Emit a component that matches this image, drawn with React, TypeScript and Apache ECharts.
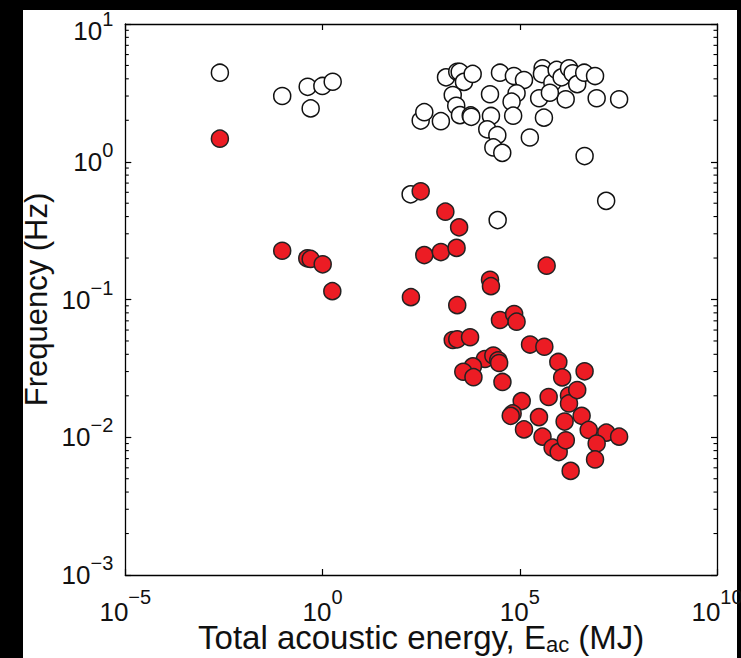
import React, { useEffect, useRef } from 'react';
import * as echarts from 'echarts';

// Open (white) circles: total acoustic energy (MJ) and frequency (Hz)
const openEnergy = [
  2.5e-3, 0.095, 0.42, 0.5, 0.99, 1.81, 171, 2.75e4, 1.55e7, 308, 380, 1.0e3, 1.35e3,
  2.6e3, 3.0e3, 3.85e3, 6.4e3, 2.0e3, 2.45e3, 3.05e3, 5.7e3, 5.9e3, 1.76e4, 1.86e4, 1.5e4,
  2.7e4, 2.14e4, 3.6e4, 3.15e4, 7.1e4, 1.28e5, 8.3e4, 6.2e4, 6.8e4, 1.8e5, 3.1e5, 4.1e5,
  3.8e5, 3.65e5, 6.7e5, 8.6e5, 1.15e6, 1.77e6, 2.19e6, 2.86e6, 1.46e6, 5.8e5, 4.3e6, 8.1e6,
  8.9e6, 3.3e7, 4.4e6,
];
const openFreq = [
  4.43, 3.0, 3.5, 2.44, 3.55, 3.81, 0.58, 0.377, 0.52, 1.99, 2.29, 1.97, 4.1,
  4.5, 4.49, 3.8, 4.34, 3.05, 2.55, 2.18, 2.17, 2.12, 3.09, 2.15, 1.72,
  1.56, 1.27, 1.16, 4.43, 4.19, 3.92, 3.14, 2.73, 2.16, 1.5, 2.89, 2.09,
  4.77, 4.33, 3.75, 4.64, 4.1, 4.77, 4.39, 3.66, 2.84, 3.17, 4.43, 4.19,
  2.89, 2.84, 1.1,
];

// Red (filled) circles
const redEnergy = [
  2.5e-3, 0.095, 0.41, 0.5, 1.01, 1.77, 308, 1.3e3, 2.9e3, 380, 1.0e3, 2.5e3, 4.8e5,
  1.76e4, 1.86e4, 174, 2.6e3, 3.15e4, 7.2e4, 8.3e4, 2.0e3, 2.6e3, 5.5e3, 1.82e5, 4.2e5,
  1.31e4, 2.14e4, 2.85e4, 3.0e4, 6.5e3, 3.7e3, 6.7e3, 3.64e4, 9.5e5, 1.19e6, 4.4e6,
  1.12e5, 6.6e4, 5.9e4, 5.4e5, 1.77e6, 1.77e6, 2.86e6, 3.07e5, 1.37e6, 3.7e6, 1.28e5,
  3.77e5, 6.8e5, 9.7e5, 1.47e6, 5.6e6, 1.56e7, 3.3e7, 8.9e6, 8.1e6, 1.95e6,
];
const redFreq = [
  1.47, 0.226, 0.199, 0.197, 0.18, 0.115, 0.61, 0.434, 0.334, 0.21, 0.221, 0.237, 0.176,
  0.139, 0.125, 0.104, 0.091, 0.071, 0.0785, 0.069, 0.0508, 0.0514, 0.0532, 0.0471, 0.0454,
  0.037, 0.0392, 0.0362, 0.0346, 0.0327, 0.0299, 0.0273, 0.0252, 0.0352, 0.0272, 0.0301,
  0.0183, 0.0149, 0.0143, 0.0196, 0.0201, 0.0176, 0.022, 0.014, 0.013, 0.0143, 0.0114,
  0.0101, 0.0084, 0.0078, 0.0095, 0.0113, 0.0108, 0.0101, 0.009, 0.0069, 0.0057,
];

// Axis decades (exponents) and minor tick mantissas
const xDecadeMin = -5;
const xDecadeMax = 10;
const xDecadeStep = 5;
const yDecadeMin = -3;
const yDecadeMax = 1;
const minorDecades = [-3, -2, -1, 0];
const minorMantissas = [2, 3, 4, 5, 6, 7, 8, 9];

const FONT = '"Liberation Sans", Arial, Helvetica, sans-serif';
const TXT = '#111';

const supText = (v: number) => {
  const n = Math.round(v);
  return n < 0 ? '\u2212' + Math.abs(n) : String(n);
};

const tok = (fontSize: number, lineHeight: number, padding: number[], verticalAlign: string) => ({
  fontSize,
  lineHeight,
  padding,
  verticalAlign,
  fontFamily: FONT,
  color: TXT,
});

// x tick labels: tokens aligned to the top of the line, base pushed down by padding
const xLabelRich = {
  b: tok(26, 24, [12, 0, 0, 0], 'top'),
  s: tok(20, 18, [0, 0, 0, 0], 'top'),
};
const yLabelRich = {
  b: tok(26, 26, [0, 0, 0, 0], 'middle'),
  s: tok(20, 20, [0, 0, 24, 0], 'middle'),
  bt: tok(26, 26, [14, 0, 0, 0], 'middle'),
  st: tok(20, 20, [14, 0, 24, 0], 'middle'),
};

export default function App() {
  const ref = useRef<HTMLDivElement>(null);

  useEffect(() => {
    if (!ref.current) return;
    const chart = echarts.init(ref.current, null, { renderer: 'svg' });
    const lg = Math.log10;
    const openData = openEnergy.map((e, i) => [lg(e), lg(openFreq[i])]);
    const redData = redEnergy.map((e, i) => [lg(e), lg(redFreq[i])]);
    const minorData: number[][] = [];
    minorDecades.forEach((d) =>
      minorMantissas.forEach((m) => minorData.push([xDecadeMin, d + lg(m)]))
    );

    const lineStyle = { color: '#000', width: 1.3 };
    const tick = { show: true, inside: true, length: 6, lineStyle: { color: '#000', width: 1.2 } };

    const option: any = {
      animation: false,
      backgroundColor: '#000',
      graphic: [
        {
          type: 'rect',
          z: -10,
          silent: true,
          shape: { x: 23, y: 10, width: 714, height: 648 },
          style: { fill: '#fff' },
        },
      ],
      grid: {
        left: 125.3,
        top: 24,
        width: 591.7,
        height: 551,
        containLabel: false,
        outerBoundsMode: 'none',
      },
      xAxis: [
        {
          type: 'value',
          min: xDecadeMin,
          max: xDecadeMax,
          interval: xDecadeStep,
          position: 'bottom',
          axisLine: { show: true, onZero: false, lineStyle },
          axisTick: tick,
          splitLine: { show: false },
          axisLabel: {
            margin: 12,
            formatter: (v: number) => `{b|10}{s|${supText(v)}}`,
            rich: xLabelRich,
          },
          name: 'Total acoustic energy, E{sub|ac} (MJ)',
          nameLocation: 'middle',
          nameGap: 48,
          nameMoveOverlap: false,
          nameTextStyle: {
            fontSize: 33,
            lineHeight: 28,
            verticalAlign: 'top',
            fontFamily: FONT,
            color: TXT,
            rich: {
              sub: tok(22, 22, [10, 0, 0, 0], 'top'),
            },
          },
        },
        {
          type: 'value',
          min: xDecadeMin,
          max: xDecadeMax,
          interval: xDecadeStep,
          position: 'top',
          axisLine: { show: true, onZero: false, lineStyle },
          axisTick: tick,
          splitLine: { show: false },
          axisLabel: { show: false },
        },
      ],
      yAxis: [
        {
          type: 'value',
          min: yDecadeMin,
          max: yDecadeMax,
          interval: 1,
          position: 'left',
          axisLine: { show: true, onZero: false, lineStyle },
          axisTick: tick,
          splitLine: { show: false },
          axisLabel: {
            margin: 12,
            formatter: (v: number) =>
              Math.round(v) === yDecadeMax
                ? `{bt|10}{st|${supText(v)}}`
                : `{b|10}{s|${supText(v)}}`,
            rich: yLabelRich,
          },
          name: 'Frequency (Hz)',
          nameLocation: 'middle',
          nameGap: 76,
          nameMoveOverlap: false,
          nameTextStyle: { fontSize: 31, lineHeight: 26, fontFamily: FONT, color: TXT },
        },
        {
          type: 'value',
          min: yDecadeMin,
          max: yDecadeMax,
          interval: 1,
          position: 'right',
          axisLine: { show: true, onZero: false, lineStyle },
          axisTick: tick,
          splitLine: { show: false },
          axisLabel: { show: false },
        },
      ],
      series: [
        {
          type: 'custom',
          xAxisIndex: 0,
          yAxisIndex: 0,
          silent: true,
          clip: false,
          z: 5,
          data: minorData,
          renderItem: (params: any, api: any) => {
            const cs = params.coordSys;
            const y = api.coord([api.value(0), api.value(1)])[1];
            const st = { stroke: '#000', lineWidth: 1.1 };
            return {
              type: 'group',
              children: [
                { type: 'line', shape: { x1: cs.x, y1: y, x2: cs.x + 3.5, y2: y }, style: st },
                {
                  type: 'line',
                  shape: { x1: cs.x + cs.width - 3.5, y1: y, x2: cs.x + cs.width, y2: y },
                  style: st,
                },
              ],
            };
          },
        },
        {
          type: 'scatter',
          xAxisIndex: 0,
          yAxisIndex: 0,
          data: openData,
          symbol: 'circle',
          symbolSize: 17,
          itemStyle: { color: '#fff', borderColor: '#111', borderWidth: 1.5, opacity: 1 },
        },
        {
          type: 'scatter',
          xAxisIndex: 0,
          yAxisIndex: 0,
          data: redData,
          symbol: 'circle',
          symbolSize: 17,
          itemStyle: { color: '#ec1c24', borderColor: '#222', borderWidth: 1.5, opacity: 1 },
        },
      ],
    };
    chart.setOption(option);
    return () => chart.dispose();
  }, []);

  return (
    <div
      ref={ref}
      style={{ position: 'fixed', left: 0, top: 0, width: 741, height: 658, background: '#000' }}
    />
  );
}
